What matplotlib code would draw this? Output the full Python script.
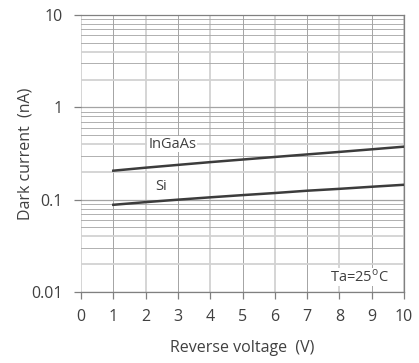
import matplotlib
matplotlib.use("Agg")
import matplotlib.pyplot as plt
import numpy as np

voltage = [1, 2, 3, 4, 5, 6, 7, 8, 9, 10]
ingaas = [0.206, 0.222, 0.238, 0.255, 0.272, 0.29, 0.309, 0.329, 0.351, 0.375]
si = [0.088, 0.094, 0.10, 0.106, 0.112, 0.118, 0.125, 0.131, 0.138, 0.145]
xticks = [0, 1, 2, 3, 4, 5, 6, 7, 8, 9, 10]
yticks = [0.01, 0.1, 1, 10]
ytick_labels = ["0.01", "0.1", "1", "10"]

plt.rcParams['font.family'] = ['Open Sans', 'DejaVu Sans']
txt = '#404040'

fig = plt.figure(figsize=(4.19, 3.63), dpi=100)
ax = fig.add_axes([81/419, 1-292/363, (404-81)/419, (292-15)/363])
ax.set_yscale('log')
ax.set_xlim(0, 10)
ax.set_ylim(0.01, 10)

dark = '#a4a4a4'
light = '#d2d2d2'
# vertical grid
for x in xticks:
    c, lw = (dark, 0.7) if x % 2 == 1 else (light, 1.3)
    ax.axvline(x, color=c, lw=lw, zorder=1)
# horizontal grid
for dec in [0.01, 0.1, 1]:
    for m in range(1, 10):
        y = dec * m
        if m == 1:
            c, lw = dark, 0.9
        elif m in (2, 4):
            c, lw = light, 1.3
        else:
            c, lw = dark, 0.6
        ax.axhline(y, color=c, lw=lw, zorder=1)

ax.plot(voltage, ingaas, color='#3c3c3c', lw=1.8, zorder=3)
ax.plot(voltage, si, color='#3c3c3c', lw=1.8, zorder=3)

ax.text(2.08, 0.40, "InGaAs", color=txt, fontsize=10.5, ha='left', va='center',
        bbox=dict(facecolor='white', edgecolor='none', pad=0.5), zorder=4)
ax.text(2.3, 0.138, "Si", color=txt, fontsize=10.5, ha='left', va='center',
        bbox=dict(facecolor='white', edgecolor='none', pad=0.5), zorder=4)
ax.text(9.52, 0.0145, r"Ta=25$^{\mathregular{o}}$C", color=txt, fontsize=10.5,
        ha='right', va='center',
        bbox=dict(facecolor='white', edgecolor='none', pad=0.5), zorder=4)

for s in ax.spines.values():
    s.set_color('#808080')
    s.set_linewidth(0.9)
ax.spines['left'].set_visible(False)

ax.set_xticks(xticks)
ax.set_xticklabels([str(x) for x in xticks])
ax.set_yticks(yticks)
ax.set_yticklabels(ytick_labels)
ax.yaxis.set_minor_locator(matplotlib.ticker.NullLocator())
ax.tick_params(axis='both', colors='#808080', labelcolor=txt, labelsize=11.5,
               length=5, width=0.9)
ax.tick_params(axis='x', pad=7)
ax.tick_params(axis='y', pad=8)

ax.set_xlabel("Reverse voltage  (V)", color=txt, fontsize=11.5, labelpad=11)
ax.set_ylabel("Dark current  (nA)", color=txt, fontsize=11.5)
ax.yaxis.set_label_coords((34 - 81) / 323, 0.5)

fig.savefig("out.png", dpi=100)
